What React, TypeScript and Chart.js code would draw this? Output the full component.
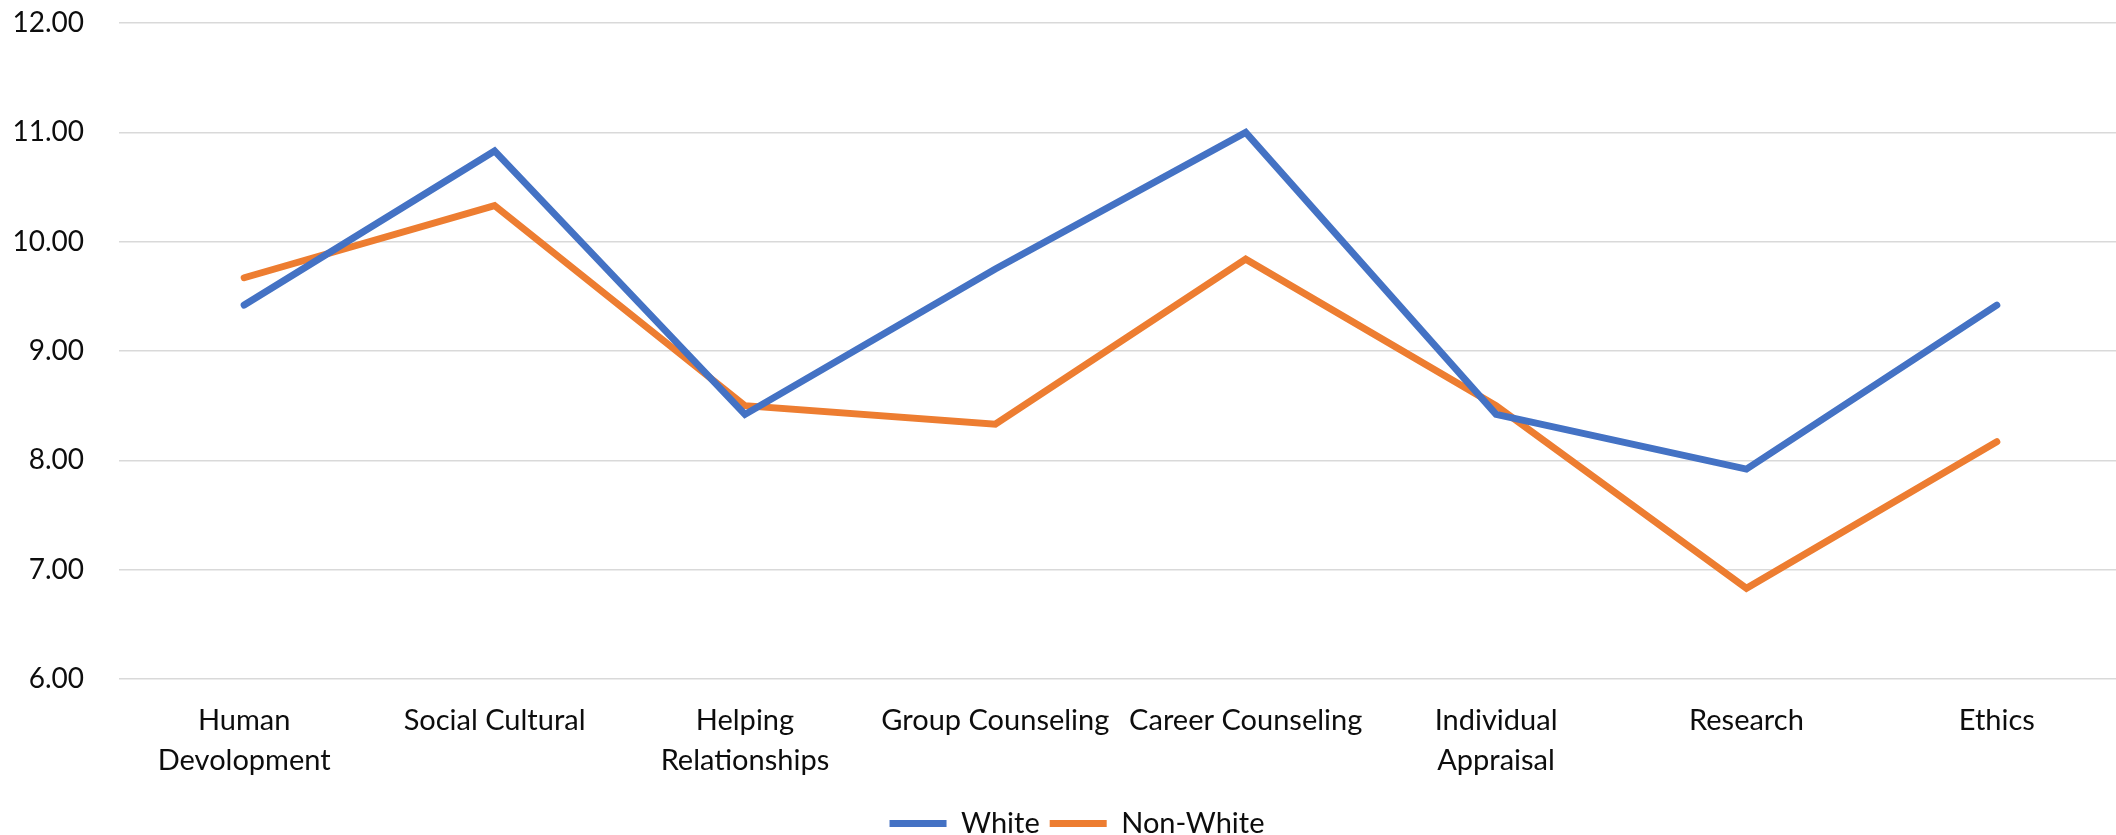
import React, { useEffect, useRef } from "react";
import { Chart, registerables } from "chart.js";

Chart.register(...registerables);

const categories: (string | string[])[] = [
  ["Human", "Devolopment"],
  "Social Cultural",
  ["Helping", "Relationships"],
  "Group Counseling",
  "Career Counseling",
  ["Individual", "Appraisal"],
  "Research",
  "Ethics",
];

const whiteValues = [9.42, 10.83, 8.42, 9.75, 11.0, 8.42, 7.92, 9.42];
const nonWhiteValues = [9.67, 10.33, 8.5, 8.33, 9.84, 8.5, 6.83, 8.17];

const yMin = 6;
const yMax = 12;
const yStep = 1;

const FONT = "Lato, 'Open Sans', sans-serif";

const legendShift = {
  id: "legendShift",
  afterLayout(chart: any) {
    const lg = chart.legend;
    if (lg) {
      lg.left += 16;
      lg.right += 16;
    }
  },
};

export default function App() {
  const ref = useRef<HTMLCanvasElement | null>(null);

  useEffect(() => {
    if (!ref.current) return;
    const chart = new Chart(ref.current, {
      type: "line",
      data: {
        labels: categories,
        datasets: [
          {
            label: "White",
            data: whiteValues,
            borderColor: "#4472C4",
            backgroundColor: "#4472C4",
            borderWidth: 7,
            borderCapStyle: "round",
            pointRadius: 0,
            tension: 0,
            fill: false,
          },
          {
            label: "Non-White",
            data: nonWhiteValues,
            borderColor: "#ED7D31",
            backgroundColor: "#ED7D31",
            borderWidth: 7,
            borderCapStyle: "round",
            pointRadius: 0,
            tension: 0,
            fill: false,
          },
        ],
      },
      options: {
        responsive: false,
        animation: false,
        layout: { padding: { top: 23, left: 0, right: 0, bottom: 0 } },
        plugins: {
          tooltip: { enabled: false },
          legend: {
            position: "bottom",
            labels: {
              usePointStyle: true,
              pointStyle: "line",
              pointStyleWidth: 57,
              boxHeight: 29,
              padding: 10,
              color: "#0d0d0d",
              font: { family: FONT, size: 29 },
            },
          },
        },
        scales: {
          x: {
            offset: true,
            grid: { display: false, offset: true },
            border: { display: false },
            ticks: {
              autoSkip: false,
              maxRotation: 0,
              minRotation: 0,
              padding: 14,
              color: "#0d0d0d",
              font: { family: FONT, size: 29, lineHeight: 1.38 },
            },
            afterFit(scale: any) {
              scale.height = 120;
            },
          },
          y: {
            min: yMin,
            max: yMax,
            grid: {
              color: "#D9D9D9",
              lineWidth: 1.5,
              drawTicks: true,
              tickLength: 35,
              tickColor: "rgba(0,0,0,0)",
            },
            border: { display: false },
            ticks: {
              stepSize: yStep,
              padding: 0,
              color: "#0d0d0d",
              font: { family: FONT, size: 28 },
              callback: (v: any) => Number(v).toFixed(2),
            },
            afterFit(scale: any) {
              scale.width = 119;
            },
          },
        },
      },
      plugins: [legendShift],
    });
    return () => chart.destroy();
  }, []);

  return (
    <div
      style={{
        position: "fixed",
        left: 0,
        top: 0,
        width: 2116,
        height: 835,
        overflow: "hidden",
        background: "#fff",
      }}
    >
      <canvas ref={ref} width={2122} height={848} style={{ display: "block", width: 2122, height: 848 }} />
    </div>
  );
}
